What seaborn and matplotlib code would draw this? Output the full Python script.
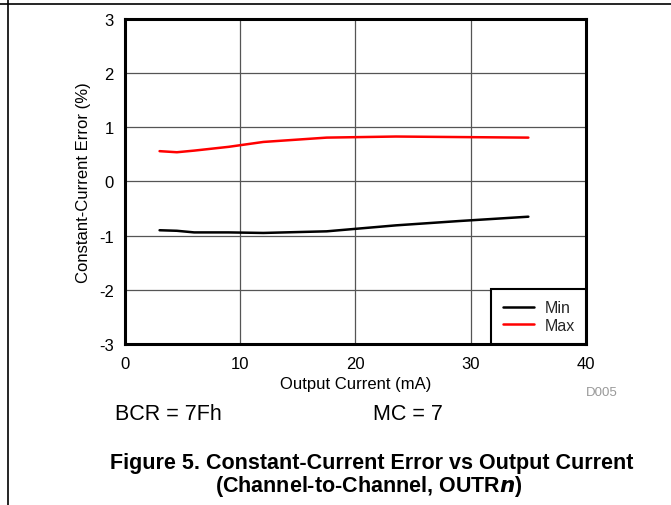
import matplotlib
matplotlib.use("Agg")
import matplotlib.pyplot as plt
import seaborn as sns
import pandas as pd

current_ma = [3, 4.5, 6, 9, 12, 17.5, 23.5, 29, 35]
min_err = [-0.90, -0.91, -0.94, -0.94, -0.95, -0.92, -0.81, -0.73, -0.65]
max_err = [0.56, 0.54, 0.57, 0.64, 0.73, 0.81, 0.83, 0.82, 0.81]
series_names = ["Min", "Max"]
series_colors = ["#000000", "#ff0000"]
x_ticks = [0, 10, 20, 30, 40]
y_ticks = [-3, -2, -1, 0, 1, 2, 3]

df = pd.concat([
    pd.DataFrame({"Output Current (mA)": current_ma, "err": min_err, "series": "Min"}),
    pd.DataFrame({"Output Current (mA)": current_ma, "err": max_err, "series": "Max"}),
])

sns.set_theme(style="white")
plt.rcParams['font.family'] = ['Liberation Sans', 'DejaVu Sans']
plt.rcParams['axes.unicode_minus'] = False

fig = plt.figure(figsize=(6.71, 5.06), dpi=100)
ax = fig.add_axes([0.1863, 0.3182, 0.687, 0.6423])

sns.lineplot(data=df, x="Output Current (mA)", y="err", hue="series",
             hue_order=series_names, palette=series_colors, linewidth=1.8, ax=ax)

ax.set_xlim(0, 40)
ax.set_ylim(-3, 3)
ax.set_xticks(x_ticks)
ax.set_yticks(y_ticks)
ax.grid(True, color="#555555", linewidth=0.9)
ax.set_axisbelow(True)
for s in ax.spines.values():
    s.set_color("black")
    s.set_linewidth(2.2)
    s.set_visible(True)
ax.tick_params(axis="both", which="both", length=0, labelsize=12, colors="black")
ax.tick_params(axis="x", pad=9)
ax.tick_params(axis="y", pad=8)
ax.set_xlabel("Output Current (mA)", fontsize=12, color="black", labelpad=3)
ax.set_ylabel("Constant-Current Error (%)", fontsize=12, color="black", labelpad=6)

leg = ax.legend(loc="lower right", frameon=True, fontsize=11.5, borderaxespad=0,
                handlelength=2.0, handletextpad=0.63, borderpad=0.7,
                labelspacing=0.15, fancybox=False)
leg.get_frame().set_edgecolor("black")
leg.get_frame().set_linewidth(1.5)
leg.get_frame().set_alpha(1)

fig.text(602 / 671, 1 - 393 / 506, "D005", fontsize=9.5, color="#999999", ha="center", va="center")
fig.text(115 / 671, 1 - 415 / 506, "BCR = 7Fh", fontsize=15.5, color="black", ha="left", va="center")
fig.text(373 / 671, 1 - 415 / 506, "MC = 7", fontsize=15.5, color="black", ha="left", va="center")
fig.text(372 / 671, 1 - 463 / 506, "Figure 5. Constant-Current Error vs Output Current",
         fontsize=15.5, fontweight="bold", color="black", ha="center", va="center")
fig.text(369 / 671, 1 - 487 / 506, "(Channel-to-Channel, OUTR$\\boldsymbol{n}$)",
         fontsize=15.5, fontweight="bold", color="black", ha="center", va="center")

fig.add_artist(plt.Line2D([0, 1], [1 - 5 / 506, 1 - 5 / 506], color="black", linewidth=1.2, transform=fig.transFigure))
fig.add_artist(plt.Line2D([7.5 / 671, 7.5 / 671], [0, 1], color="black", linewidth=1.2, transform=fig.transFigure))

fig.savefig("out.png", dpi=100)
